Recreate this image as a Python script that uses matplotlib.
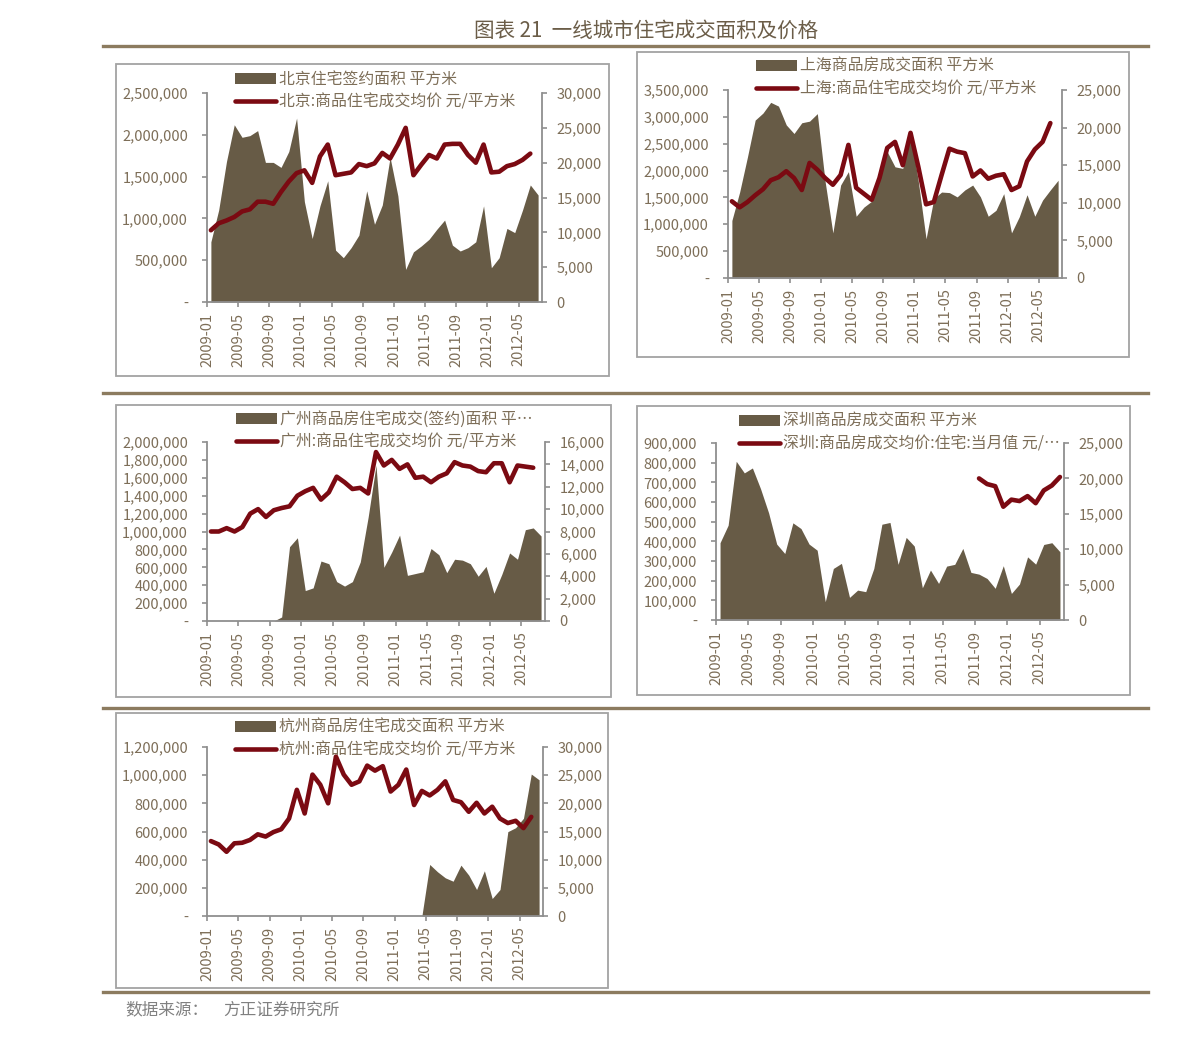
import matplotlib
matplotlib.use('Agg')
import matplotlib.pyplot as plt
import numpy as np
from matplotlib.patches import Rectangle, Patch
from matplotlib.lines import Line2D
from matplotlib.ticker import FuncFormatter

plt.rcParams['font.family'] = ['Noto Sans CJK SC', 'DejaVu Sans']

W, H = 1191, 1040
AREA_C = '#675b46'
LINE_C = '#7b0a12'
TXT_C = '#7d6e58'
SPINE_C = '#8f8f8f'
BOX_C = '#a3a3a3'
RULE_C = '#8c7b5f'

tick_labels = ['2009-01', '2009-05', '2009-09', '2010-01', '2010-05', '2010-09',
               '2011-01', '2011-05', '2011-09', '2012-01', '2012-05']

# 成交面积, 千平方米 (2009-01 .. 2012-07)
bj_area = [720, 1100, 1680, 2120, 1970, 1990, 2050, 1670, 1670, 1610, 1800, 2200,
           1200, 760, 1150, 1450, 620, 530, 650, 800, 1330, 930, 1160, 1730,
           1270, 390, 600, 670, 750, 870, 980, 680, 610, 650, 720, 1150,
           410, 530, 880, 830, 1100, 1400, 1280]
sh_area = [1070, 1600, 2250, 2940, 3070, 3270, 3200, 2850, 2690, 2890, 2920, 3060,
           1800, 840, 1730, 1980, 1150, 1320, 1430, 1820, 2350, 2070, 2040, 2720,
           1800, 730, 1480, 1600, 1590, 1510, 1640, 1730, 1510, 1150, 1260, 1570,
           840, 1140, 1550, 1150, 1450, 1640, 1820]
gz_area = [0, 0, 0, 0, 0, 0, 0, 0, 0, 45, 830, 930,
           340, 370, 670, 640, 440, 390, 440, 660, 1160, 1740, 600, 770,
           960, 510, 530, 550, 810, 740, 540, 690, 680, 640, 500, 610,
           310, 520, 760, 690, 1020, 1040, 950]
sz_area = [393, 482, 807, 748, 773, 668, 545, 386, 338, 494, 465, 386,
           355, 93, 262, 288, 115, 152, 144, 262, 487, 496, 283, 420,
           376, 164, 254, 186, 274, 283, 364, 242, 233, 211, 161, 276,
           135, 183, 321, 284, 384, 393, 347]
hz_area = [0, 0, 0, 0, 0, 0, 0, 0, 0, 0, 0, 0,
           0, 0, 0, 0, 0, 0, 0, 0, 0, 0, 0, 0,
           0, 0, 0, 0, 366, 314, 271, 247, 361, 290, 188, 321,
           124, 188, 599, 627, 694, 1008, 967]

# 成交均价, 元/平方米
bj_price = [10300, 11300, 11700, 12200, 13000, 13300, 14400, 14400, 14100, 15800, 17300, 18500,
            18900, 17100, 20900, 22600, 18200, 18400, 18600, 19800, 19500, 19900, 21400, 20600,
            22600, 25000, 18200, 19700, 21100, 20600, 22600, 22700, 22700, 21100, 20000, 22600,
            18600, 18700, 19500, 19800, 20400, 21300]
sh_price = [10200, 9400, 10100, 11000, 11800, 13000, 13400, 14200, 13300, 11700, 15300, 14400,
            13300, 12400, 13700, 17700, 12000, 11200, 10400, 13300, 17300, 18100, 15000, 19300,
            14800, 9800, 10100, 13700, 17200, 16800, 16600, 13500, 14300, 13200, 13600, 13800,
            11700, 12200, 15500, 17100, 18100, 20600]
gz_price = [8000, 8000, 8300, 8000, 8400, 9600, 10000, 9300, 9900, 10100, 10250, 11200,
            11600, 11900, 10850, 11500, 12900, 12400, 11800, 11900, 11400, 15100, 13900, 14400,
            13600, 14000, 12800, 12900, 12400, 12900, 13200, 14200, 13900, 13800, 13400, 13300,
            14100, 14100, 12400, 13900, 13800, 13700]
sz_price = [np.nan] * 32 + [20000, 19200, 18900, 16000, 17000, 16800, 17500, 16500, 18300, 19000, 20200]
hz_price = [13300, 12700, 11400, 12900, 13000, 13500, 14500, 14100, 14900, 15400, 17300, 22400,
            18200, 25100, 23300, 20000, 28300, 25100, 23300, 23900, 26700, 25800, 26600, 22100,
            23300, 26000, 19700, 22200, 21400, 22400, 23900, 20600, 20200, 18500, 20100, 18200,
            19400, 17300, 16500, 16900, 15600, 17600]


def fx(x):
    return x / W


def fy(y):
    return 1 - y / H


def left_fmt(v, pos):
    return '-' if v == 0 else f'{int(round(v)):,}'


def right_fmt(v, pos):
    return f'{int(round(v)):,}'


def panel(fig, box, rect, area, price, lmax, lstep, rmax, rstep, leg_xy, labels):
    x0, y0, x1, y1 = box
    fig.add_artist(Rectangle((fx(x0), fy(y1)), (x1 - x0) / W, (y1 - y0) / H,
                             transform=fig.transFigure, fill=False,
                             edgecolor=BOX_C, lw=1.3))
    l, t, r, b = rect
    ax = fig.add_axes([fx(l), fy(b), (r - l) / W, (b - t) / H])
    ax2 = ax.twinx()

    xa = np.arange(len(area)) + 0.5
    ax.fill_between(xa, 0, np.array(area) * 1000, color=AREA_C, lw=0)
    xp = np.arange(len(price)) + 0.5
    ax2.plot(xp, price, color=LINE_C, lw=3.3, solid_joinstyle='round',
             solid_capstyle='round')

    ax.set_xlim(0, 43)
    ax.set_ylim(0, lmax)
    ax2.set_ylim(0, rmax)
    ax.set_yticks(np.arange(0, lmax + 1, lstep))
    ax2.set_yticks(np.arange(0, rmax + 1, rstep))
    ax.yaxis.set_major_formatter(FuncFormatter(left_fmt))
    ax2.yaxis.set_major_formatter(FuncFormatter(right_fmt))
    ax.set_xticks(np.arange(0, 41, 4))
    ax.set_xticklabels(tick_labels, rotation=90)

    for a in (ax, ax2):
        for s in a.spines.values():
            s.set_color(SPINE_C)
            s.set_linewidth(1.3)
        a.spines['top'].set_visible(False)
    ax.spines['right'].set_visible(False)
    ax2.spines['left'].set_visible(False)
    ax2.spines['bottom'].set_visible(False)

    ax.tick_params(axis='y', direction='out', length=3.6, width=1.2, color=SPINE_C,
                   labelcolor=TXT_C, labelsize=10.5, pad=10)
    ax.tick_params(axis='x', direction='out', length=3.6, width=1.2, color=SPINE_C,
                   labelcolor=TXT_C, labelsize=10.5, pad=4)
    ax2.tick_params(axis='y', direction='out', length=3.6, width=1.2, color=SPINE_C,
                    labelcolor=TXT_C, labelsize=10.5, pad=7)

    handles = [Patch(facecolor=AREA_C, edgecolor='none'),
               Line2D([], [], color=LINE_C, lw=3.3, solid_capstyle='round')]
    ax2.legend(handles, labels, loc='upper left',
               bbox_to_anchor=(fx(leg_xy[0]), fy(leg_xy[1] + 1)),
               bbox_transform=fig.transFigure, frameon=False, borderpad=0,
               borderaxespad=0, handlelength=2.6, handletextpad=0.15,
               labelspacing=0.32, fontsize=11.4, labelcolor=TXT_C)


fig = plt.figure(figsize=(W / 100, H / 100), dpi=100)

panel(fig, (116, 64, 609, 376), (207, 93, 542, 302), bj_area, bj_price,
      2.5e6, 5e5, 30000, 5000, (235, 70),
      ['北京住宅签约面积 平方米', '北京:商品住宅成交均价 元/平方米'])
panel(fig, (637, 52, 1129, 357), (728, 90, 1062, 278), sh_area, sh_price,
      3.5e6, 5e5, 25000, 5000, (756, 57),
      ['上海商品房成交面积 平方米', '上海:商品住宅成交均价 元/平方米'])
panel(fig, (116, 405, 611, 697), (207, 442, 545, 621), gz_area, gz_price,
      2e6, 2e5, 16000, 2000, (236, 410),
      ['广州商品房住宅成交(签约)面积 平…', '广州:商品住宅成交均价 元/平方米'])
panel(fig, (637, 406, 1130, 695), (716, 443, 1064, 620), sz_area, sz_price,
      9e5, 1e5, 25000, 5000, (739, 412),
      ['深圳商品房成交面积 平方米', '深圳:商品房成交均价:住宅:当月值 元/…'])
panel(fig, (116, 713, 608, 988), (207, 747, 543, 916), hz_area, hz_price,
      1.2e6, 2e5, 30000, 5000, (235, 718),
      ['杭州商品房住宅成交面积 平方米', '杭州:商品住宅成交均价 元/平方米'])

fig.text(fx(646), fy(31), '图表 21  一线城市住宅成交面积及价格', ha='center', va='center',
         fontsize=14.8, color='#6b5d48')
for yy in (46, 393, 708, 992):
    fig.add_artist(Line2D([fx(103), fx(1148)], [fy(yy), fy(yy)],
                          transform=fig.transFigure, color=RULE_C, lw=2.4))
fig.text(fx(125), fy(1010), '数据来源：', ha='left', va='center', fontsize=12,
         color='#808080', style='italic')
fig.text(fx(223), fy(1010), '方正证券研究所', ha='left', va='center', fontsize=12,
         color='#808080', style='italic')

fig.savefig('out.png', dpi=100)
